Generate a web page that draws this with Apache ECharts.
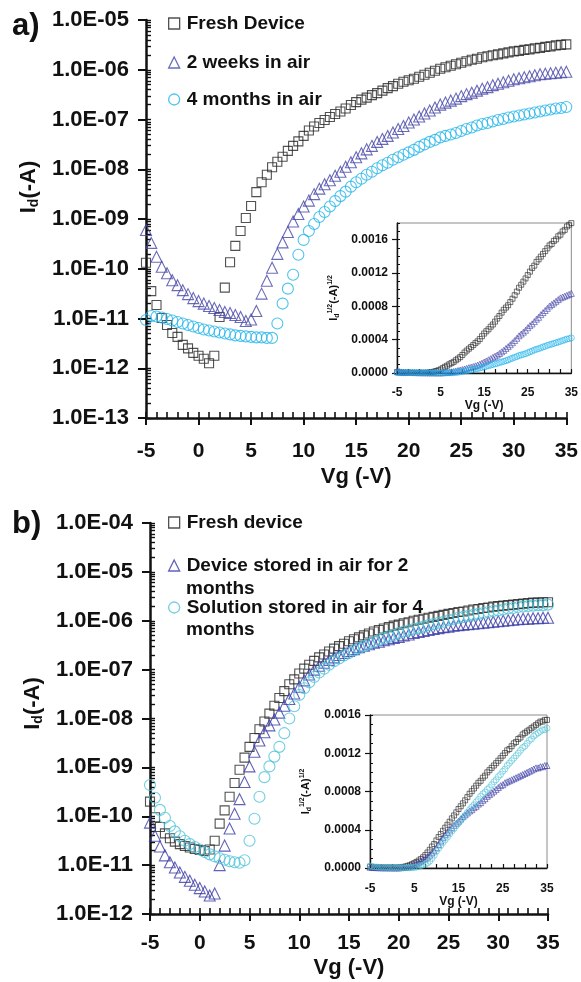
<!DOCTYPE html>
<html>
<head>
<meta charset="utf-8">
<script src="https://cdn.jsdelivr.net/npm/echarts@6/dist/echarts.min.js"></script>
<style>
  html, body { margin: 0; padding: 0; background: #fff; }
  #chart { width: 581px; height: 982px; }
</style>
</head>
<body>
<div id="chart"></div>
<script>
// gate voltage sweep, -5 .. 35 V in 0.5 V steps
const vg = [
  -5, -4.5, -4, -3.5, -3, -2.5, -2, -1.5, -1, -0.5,
  0, 0.5, 1, 1.5, 2, 2.5, 3, 3.5, 4, 4.5,
  5, 5.5, 6, 6.5, 7, 7.5, 8, 8.5, 9, 9.5,
  10, 10.5, 11, 11.5, 12, 12.5, 13, 13.5, 14, 14.5,
  15, 15.5, 16, 16.5, 17, 17.5, 18, 18.5, 19, 19.5,
  20, 20.5, 21, 21.5, 22, 22.5, 23, 23.5, 24, 24.5,
  25, 25.5, 26, 26.5, 27, 27.5, 28, 28.5, 29, 29.5,
  30, 30.5, 31, 31.5, 32, 32.5, 33, 33.5, 34, 34.5,
  35
];

// panel a, log10 of Id (-A)
const aFresh = [
  -9.88, -10.45, -10.73, -10.99, -11.13, -11.29, -11.37, -11.53, -11.60, -11.69,
  -11.75, -11.81, -11.90, -11.75, -10.97, -10.38, -9.87, -9.54, -9.24, -8.98,
  -8.74, -8.46, -8.26, -8.11, -7.96, -7.85, -7.75, -7.63, -7.53, -7.44,
  -7.33, -7.22, -7.14, -7.07, -7.01, -6.95, -6.89, -6.84, -6.78, -6.71,
  -6.65, -6.60, -6.56, -6.51, -6.47, -6.42, -6.37, -6.33, -6.28, -6.24,
  -6.21, -6.18, -6.14, -6.10, -6.06, -6.02, -5.98, -5.95, -5.92, -5.89,
  -5.86, -5.83, -5.80, -5.78, -5.75, -5.73, -5.71, -5.69, -5.67, -5.65,
  -5.63, -5.62, -5.60, -5.59, -5.57, -5.56, -5.54, -5.53, -5.51, -5.50,
  -5.49
];
const aTwoWeeks = [
  -9.22, -9.48, -9.76, -9.96, -10.09, -10.23, -10.33, -10.43, -10.51, -10.59,
  -10.65, -10.70, -10.75, -10.79, -10.83, -10.87, -10.89, -10.93, -10.97, -11.05,
  -11.02, -10.85, -10.50, -10.24, -9.98, -9.70, -9.47, -9.26, -9.05, -8.90,
  -8.75, -8.63, -8.50, -8.39, -8.30, -8.22, -8.13, -8.05, -7.95, -7.86,
  -7.76, -7.68, -7.60, -7.53, -7.45, -7.39, -7.33, -7.26, -7.19, -7.13,
  -7.06, -7.00, -6.94, -6.88, -6.82, -6.76, -6.70, -6.66, -6.62, -6.58,
  -6.53, -6.49, -6.46, -6.42, -6.38, -6.35, -6.31, -6.28, -6.25, -6.22,
  -6.19, -6.17, -6.15, -6.13, -6.11, -6.09, -6.08, -6.07, -6.06, -6.05,
  -6.04
];
const aFourMonths = [
  -11.03, -10.95, -10.96, -10.98, -11.01, -11.04, -11.07, -11.10, -11.13, -11.16,
  -11.19, -11.22, -11.24, -11.26, -11.28, -11.30, -11.32, -11.34, -11.35, -11.36,
  -11.37, -11.38, -11.38, -11.39, -11.39, -11.10, -10.70, -10.40, -10.12, -9.72,
  -9.42, -9.24, -9.10, -8.96, -8.86, -8.75, -8.64, -8.54, -8.45, -8.35,
  -8.26, -8.19, -8.11, -8.05, -7.98, -7.92, -7.87, -7.81, -7.76, -7.71,
  -7.66, -7.61, -7.55, -7.50, -7.45, -7.41, -7.36, -7.33, -7.30, -7.27,
  -7.23, -7.19, -7.16, -7.12, -7.09, -7.07, -7.04, -7.01, -6.99, -6.96,
  -6.94, -6.92, -6.90, -6.88, -6.86, -6.84, -6.82, -6.80, -6.78, -6.77,
  -6.75
];

// panel b, log10 of Id (-A)
const bFresh = [
  -9.70, -10.02, -10.22, -10.35, -10.45, -10.52, -10.57, -10.61, -10.64, -10.67,
  -10.69, -10.71, -10.68, -10.50, -10.15, -9.88, -9.60, -9.32, -9.05, -8.80,
  -8.58, -8.40, -8.22, -8.06, -7.90, -7.74, -7.58, -7.44, -7.30, -7.20,
  -7.08, -6.98, -6.90, -6.82, -6.75, -6.69, -6.63, -6.57, -6.52, -6.47,
  -6.42, -6.38, -6.34, -6.30, -6.26, -6.22, -6.19, -6.16, -6.13, -6.10,
  -6.08, -6.05, -6.03, -6.00, -5.98, -5.96, -5.94, -5.92, -5.90, -5.88,
  -5.86, -5.84, -5.82, -5.81, -5.79, -5.77, -5.76, -5.74, -5.73, -5.71,
  -5.70, -5.69, -5.68, -5.67, -5.66, -5.65, -5.64, -5.63, -5.63, -5.62,
  -5.62
];
const bDevice = [
  -10.13, -10.40, -10.62, -10.80, -10.94, -11.05, -11.15, -11.24, -11.32, -11.40,
  -11.47, -11.54, -11.62, -11.58, -11.00, -10.60, -10.25, -9.95, -9.65, -9.30,
  -8.98, -8.68, -8.45, -8.28, -8.14, -8.02, -7.88, -7.74, -7.60, -7.49,
  -7.35, -7.22, -7.10, -7.00, -6.92, -6.86, -6.80, -6.75, -6.70, -6.66,
  -6.62, -6.58, -6.54, -6.51, -6.48, -6.45, -6.43, -6.40, -6.38, -6.35,
  -6.33, -6.30, -6.28, -6.25, -6.23, -6.21, -6.19, -6.17, -6.15, -6.13,
  -6.12, -6.10, -6.09, -6.08, -6.07, -6.06, -6.05, -6.04, -6.03, -6.02,
  -6.01, -6.00, -5.99, -5.98, -5.97, -5.96, -5.96, -5.95, -5.95, -5.94,
  -5.94
];
const bSolution = [
  -9.36, -9.62, -9.87, -10.03, -10.20, -10.31, -10.41, -10.50, -10.57, -10.63,
  -10.68, -10.73, -10.78, -10.82, -10.86, -10.89, -10.92, -10.94, -10.95, -10.90,
  -10.50, -10.05, -9.60, -9.20, -8.98, -8.78, -8.58, -8.30, -8.00, -7.75,
  -7.52, -7.38, -7.26, -7.15, -7.06, -6.98, -6.90, -6.83, -6.77, -6.71,
  -6.66, -6.61, -6.56, -6.52, -6.47, -6.43, -6.39, -6.36, -6.32, -6.29,
  -6.25, -6.22, -6.20, -6.17, -6.15, -6.12, -6.09, -6.07, -6.04, -6.02,
  -5.99, -5.97, -5.94, -5.92, -5.90, -5.88, -5.86, -5.84, -5.82, -5.80,
  -5.79, -5.77, -5.75, -5.74, -5.72, -5.71, -5.70, -5.69, -5.68, -5.68,
  -5.67
];

// tick labels
const aYLabels = ['1.0E-13', '1.0E-12', '1.0E-11', '1.0E-10', '1.0E-09', '1.0E-08', '1.0E-07', '1.0E-06', '1.0E-05'];
const bYLabels = ['1.0E-12', '1.0E-11', '1.0E-10', '1.0E-09', '1.0E-08', '1.0E-07', '1.0E-06', '1.0E-05', '1.0E-04'];
const insetXLabels = ['-5', '5', '15', '25', '35'];
const insetYLabels = ['0.0000', '0.0004', '0.0008', '0.0012', '0.0016'];

const aNames = ['Fresh Device', '2 weeks in air', '4 months in air'];
const bNames = ['Fresh device', 'Device stored in air for 2 months', 'Solution stored in air for 4 months'];

const FONT = '"Liberation Sans", Arial, Helvetica, sans-serif';
const INK = '#111';
const C_FRESH = '#262626';
const C_A2 = '#4646a8';
const C_A3 = '#22b4ea';
const C_B2 = '#3a3aa6';
const C_B3 = '#4ec3d8';

const chart = echarts.init(document.getElementById('chart'));

// tick spots of a log axis drawn on exponent scale (1..9 x 10^n)
function logTicks(lo, hi) {
  let t = [];
  for (let n = lo; n < hi; n++) {
    for (let k = 1; k <= 9; k++) t.push(n + Math.log10(k));
  }
  t.push(hi);
  return t;
}

function pts(ys) {
  return vg.map((v, i) => [v, ys[i]]);
}
// inset is Id^1/2 of the same sweep
function rootPts(ys) {
  return vg.map((v, i) => [v, Math.sqrt(Math.pow(10, ys[i]))]);
}

let boldText = { fontFamily: FONT, fontWeight: 'bold', color: INK };

function mainX(grid, margin, nameGap) {
  return [{
    gridIndex: grid, type: 'value', min: -5, max: 35, interval: 5, position: 'bottom',
    axisLine: { onZero: false, lineStyle: { color: INK, width: 2.5 } },
    axisTick: { length: 7, lineStyle: { color: INK, width: 2 } },
    axisLabel: Object.assign({ margin: margin, fontSize: 21 }, boldText),
    splitLine: { show: false },
    name: 'Vg (-V)', nameLocation: 'middle', nameGap: nameGap,
    nameTextStyle: Object.assign({ fontSize: 22 }, boldText)
  }, {
    gridIndex: grid, type: 'value', min: -5, max: 35, interval: 1, position: 'bottom',
    axisLine: { show: false, onZero: false },
    axisTick: { inside: true, length: 6, lineStyle: { color: INK, width: 1.6 } },
    axisLabel: { show: false },
    splitLine: { show: false }
  }];
}

function mainY(grid, lo, hi, labels, shift) {
  return [{
    gridIndex: grid, type: 'value', min: lo, max: hi, interval: 1, position: 'left',
    axisLine: { onZero: false, lineStyle: { color: INK, width: 2.5 } },
    axisTick: { length: 8, lineStyle: { color: INK, width: 2 } },
    axisLabel: Object.assign({
      margin: 17, fontSize: 22,
      formatter: v => labels[Math.round(v - lo)]
    }, boldText),
    splitLine: { show: false },
    name: '{b|I}{s|d}{b|(-A)}', nameLocation: 'middle', nameGap: 103,
    nameTextStyle: {
      padding: [0, 0, 0, shift],
      rich: {
        b: Object.assign({ fontSize: 22, lineHeight: 24 }, boldText),
        s: Object.assign({ fontSize: 14, lineHeight: 12, verticalAlign: 'bottom' }, boldText)
      }
    }
  }, {
    gridIndex: grid, type: 'value', min: lo, max: hi, position: 'left',
    axisLine: { show: false, onZero: false },
    axisTick: { inside: true, length: 5, customValues: logTicks(lo, hi), lineStyle: { color: INK, width: 1.4 } },
    axisLabel: { show: false },
    splitLine: { show: false }
  }];
}

function insetX(grid, margin, nameGap) {
  return {
    gridIndex: grid, type: 'value', min: -5, max: 35, interval: 2.5, position: 'bottom',
    axisLine: { onZero: false, lineStyle: { color: INK, width: 1.4 } },
    axisTick: { inside: true, length: 4, lineStyle: { color: INK, width: 1.2 } },
    axisLabel: Object.assign({
      margin: margin, fontSize: 12,
      formatter: v => insetXLabels.indexOf(String(v)) >= 0 ? String(v) : ''
    }, boldText),
    splitLine: { show: false },
    name: 'Vg (-V)', nameLocation: 'middle', nameGap: nameGap,
    nameTextStyle: Object.assign({ fontSize: 12 }, boldText)
  };
}

function insetY(grid, max, nameGap, showTop) {
  return [{
    gridIndex: grid, type: 'value', min: 0, max: max, interval: 0.0004, position: 'left',
    axisLine: { onZero: false, lineStyle: { color: INK, width: 1.4 } },
    axisTick: { length: 5, lineStyle: { color: INK, width: 1.2 } },
    axisLabel: Object.assign({
      margin: 9, fontSize: 12, showMaxLabel: showTop,
      formatter: v => {
        let i = Math.round(v / 0.0004);
        return Math.abs(v - i * 0.0004) < 1e-9 && insetYLabels[i] ? insetYLabels[i] : '';
      }
    }, boldText),
    splitLine: { show: false },
    name: '{b|I}{s|d}{p|1/2}{b|(-A)}{p|1/2}', nameLocation: 'middle', nameGap: nameGap,
    nameTextStyle: {
      rich: {
        b: Object.assign({ fontSize: 11, lineHeight: 14 }, boldText),
        s: Object.assign({ fontSize: 7, lineHeight: 8, verticalAlign: 'bottom' }, boldText),
        p: Object.assign({ fontSize: 7, lineHeight: 8, verticalAlign: 'top' }, boldText)
      }
    }
  }, {
    gridIndex: grid, type: 'value', min: 0, max: max, interval: 0.0001, position: 'left',
    axisLine: { show: false, onZero: false },
    axisTick: { inside: true, length: 3, lineStyle: { color: INK, width: 1 } },
    axisLabel: { show: false },
    splitLine: { show: false }
  }];
}

function marks(name, data, xi, yi, symbol, size, color, bw) {
  return {
    name: name, type: 'scatter', xAxisIndex: xi, yAxisIndex: yi,
    symbol: symbol, symbolSize: size, data: data,
    itemStyle: { color: 'rgba(0,0,0,0)', borderColor: color, borderWidth: bw },
    emphasis: { disabled: true }
  };
}

function legendItem(name, icon, color, top) {
  return {
    left: 168, top: top, padding: 0, itemWidth: 11, itemHeight: 11,
    selectedMode: false,
    formatter: n => n.replace(/ months$/, ''),
    textStyle: Object.assign({ fontSize: 19, padding: [0, 0, 0, 2] }, boldText),
    data: [{ name: name, icon: icon, itemStyle: { color: 'rgba(0,0,0,0)', borderColor: color, borderWidth: 1.3 } }]
  };
}

let xAxes = [].concat(mainX(0, 23, 48), [insetX(1, 14, 26)], mainX(2, 19, 43), [insetX(3, 15, 28)]);
let yAxes = [].concat(mainY(0, -13, -5, aYLabels, 64), insetY(1, 0.0018, 56, false), mainY(2, -12, -4, bYLabels, 30), insetY(3, 0.0016, 57, true));

let option = {
  animation: false,
  backgroundColor: '#fff',
  grid: [
    { left: 146, top: 20, width: 423, height: 398 },
    { left: 397, top: 223, width: 175, height: 150, show: true, borderColor: '#8c8c8c', borderWidth: 1, backgroundColor: '#fff' },
    { left: 150, top: 523, width: 398, height: 391 },
    { left: 370, top: 715, width: 177, height: 153, show: true, borderColor: '#8c8c8c', borderWidth: 1, backgroundColor: '#fff' }
  ],
  xAxis: xAxes,
  yAxis: yAxes,
  legend: [
    legendItem(aNames[0], 'rect', C_FRESH, 14),
    legendItem(aNames[1], 'triangle', C_A2, 53),
    legendItem(aNames[2], 'circle', C_A3, 90),
    legendItem(bNames[0], 'rect', C_FRESH, 513),
    legendItem(bNames[1], 'triangle', C_B2, 556),
    legendItem(bNames[2], 'circle', C_B3, 598)
  ],
  graphic: [
    { type: 'text', left: 12, top: 11, style: { text: 'a)', font: 'bold 31px ' + FONT, fill: INK } },
    { type: 'text', left: 12, top: 509, style: { text: 'b)', font: 'bold 31px ' + FONT, fill: INK } },
    { type: 'text', left: 186, top: 579, style: { text: 'months', font: 'bold 19px ' + FONT, fill: INK } },
    { type: 'text', left: 186, top: 620, style: { text: 'months', font: 'bold 19px ' + FONT, fill: INK } }
  ],
  series: [
    marks(aNames[0], pts(aFresh), 0, 0, 'rect', 9, C_FRESH, 1.1),
    marks(aNames[1], pts(aTwoWeeks), 0, 0, 'triangle', 11, C_A2, 1.1),
    marks(aNames[2], pts(aFourMonths), 0, 0, 'circle', 11, C_A3, 1.1),
    marks('a inset fresh', rootPts(aFresh), 2, 2, 'rect', 5, C_FRESH, 0.8),
    marks('a inset 2w', rootPts(aTwoWeeks), 2, 2, 'triangle', 6, C_A2, 0.8),
    marks('a inset 4m', rootPts(aFourMonths), 2, 2, 'circle', 6, C_A3, 0.8),
    marks(bNames[0], pts(bFresh), 3, 4, 'rect', 9, C_FRESH, 1.1),
    marks(bNames[1], pts(bDevice), 3, 4, 'triangle', 11, C_B2, 1.1),
    marks(bNames[2], pts(bSolution), 3, 4, 'circle', 11, C_B3, 1.1),
    marks('b inset fresh', rootPts(bFresh), 5, 6, 'rect', 5, C_FRESH, 0.8),
    marks('b inset device', rootPts(bDevice), 5, 6, 'triangle', 6, C_B2, 0.8),
    marks('b inset solution', rootPts(bSolution), 5, 6, 'circle', 6, C_B3, 0.8)
  ]
};

chart.setOption(option);
</script>
</body>
</html>
